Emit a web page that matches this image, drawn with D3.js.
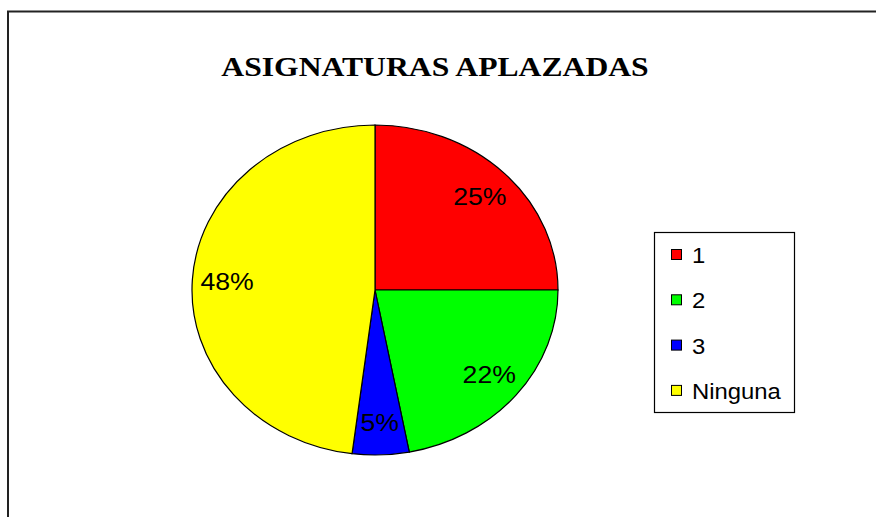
<!DOCTYPE html>
<html>
<head>
<meta charset="utf-8">
<script src="https://cdn.jsdelivr.net/npm/d3@7"></script>
<style>
  body { margin: 0; background: #fff; }
</style>
</head>
<body>
<script>
const width = 876;
const height = 517;

// Data
const categories = ["1", "2", "3", "Ninguna"];
const values = [25, 22, 5, 48];
const colors = ["#ff0000", "#00ff00", "#0000ff", "#ffff00"];
const title = "ASIGNATURAS APLAZADAS";

// the whole chart looks horizontally stretched
const stretch = 1.11;

const svg = d3.select("body").append("svg").attr("width", width).attr("height", height);

// outer frame (right and bottom edges run off the picture)
svg.append("rect")
  .attr("x", 8).attr("y", 11.5)
  .attr("width", 1000).attr("height", 1000)
  .attr("fill", "none")
  .attr("stroke", "#222")
  .attr("stroke-width", 2);

// title
svg.append("g")
  .attr("transform", `translate(435,76) scale(1.13,1)`)
  .append("text")
  .attr("text-anchor", "middle")
  .attr("font-family", "Liberation Serif, Times New Roman, serif")
  .attr("font-weight", "bold")
  .attr("font-size", 28)
  .text(title);

// pie
const cx = 375, cy = 290, ry = 165, rx = 183;

const pie = d3.pie().sort(null).value((d) => d.value);
const slices = pie(values.map((v, i) => ({ value: v, cat: categories[i], color: colors[i] })));

const arc = d3.arc().innerRadius(0).outerRadius(ry);

svg.append("g")
  .attr("transform", `translate(${cx},${cy}) scale(${rx / ry},1)`)
  .selectAll("path")
  .data(slices)
  .join("path")
  .attr("d", arc)
  .attr("fill", (d) => d.data.color)
  .attr("stroke", "#000")
  .attr("stroke-width", 1.2)
  .attr("vector-effect", "non-scaling-stroke");

// percentage labels
const total = d3.sum(values);
svg.append("g")
  .selectAll("g")
  .data(slices)
  .join("g")
  .attr("transform", (d) => {
    const mid = (d.startAngle + d.endAngle) / 2;
    const x = cx + Math.sin(mid) * rx * 0.81;
    const y = cy - Math.cos(mid) * ry * 0.8;
    return `translate(${x},${y}) scale(${stretch},1)`;
  })
  .append("text")
  .attr("text-anchor", "middle")
  .attr("dy", "0.36em")
  .attr("font-family", "Liberation Sans, Arial, sans-serif")
  .attr("font-size", 24)
  .text((d) => Math.round((d.data.value / total) * 100) + "%");

// legend
const legend = svg.append("g").attr("transform", "translate(654,232)");
legend.append("rect")
  .attr("x", 0.5).attr("y", 0.5)
  .attr("width", 140).attr("height", 180)
  .attr("fill", "#fff")
  .attr("stroke", "#000")
  .attr("stroke-width", 1.2);

const item = legend.selectAll("g.item")
  .data(categories)
  .join("g")
  .attr("class", "item")
  .attr("transform", (d, i) => `translate(0,${22 + i * 45.3})`);

item.append("rect")
  .attr("x", 17.5).attr("y", -4.5)
  .attr("width", 10).attr("height", 10)
  .attr("fill", (d, i) => colors[i])
  .attr("stroke", "#000")
  .attr("stroke-width", 1);

item.append("g")
  .attr("transform", `translate(38,9) scale(${stretch},1)`)
  .append("text")
  .attr("font-family", "Liberation Sans, Arial, sans-serif")
  .attr("font-size", 21.5)
  .text((d) => d);
</script>
</body>
</html>
